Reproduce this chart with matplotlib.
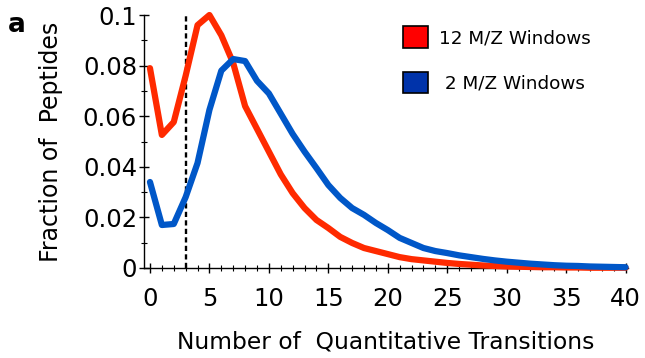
import numpy as np
import matplotlib
matplotlib.use('Agg')
import matplotlib.pyplot as plt
from matplotlib.patches import Patch
from matplotlib.ticker import MultipleLocator

# data
transitions = list(range(0, 41))
frac_12mz = [0.079, 0.0526, 0.0577, 0.076, 0.096, 0.1, 0.092, 0.081, 0.064, 0.055,
             0.046, 0.037, 0.0296, 0.0237, 0.019, 0.0158, 0.0123, 0.0099, 0.0079, 0.0067,
             0.0055, 0.0043, 0.0035, 0.003, 0.0025, 0.002, 0.0016, 0.0013, 0.001, 0.0008,
             0.0006, 0.0005, 0.0004, 0.0003, 0.0003, 0.0002, 0.0002, 0.0001, 0.0001, 0.0001,
             0.0001]
frac_2mz = [0.034, 0.017, 0.0174, 0.028, 0.0415, 0.0625, 0.078, 0.0826, 0.0818, 0.074,
            0.069, 0.061, 0.053, 0.046, 0.0395, 0.0328, 0.0277, 0.0237, 0.021, 0.0178,
            0.015, 0.0119, 0.0099, 0.0079, 0.0067, 0.0059, 0.005, 0.0043, 0.0036, 0.003,
            0.0025, 0.0021, 0.0017, 0.0014, 0.0011, 0.0009, 0.0008, 0.0006, 0.0005, 0.0004,
            0.0003]
cutoff = 3
legend_labels = ['12 M/Z Windows', ' 2 M/Z Windows']
ytick_vals = [0, 0.02, 0.04, 0.06, 0.08, 0.1]
ytick_text = ['0', '0.02', '0.04', '0.06', '0.08', '0.1']

red = '#ff2a00'
blue = '#0057c8'

plt.rcParams['font.family'] = ['DejaVu Sans']

fig = plt.figure(figsize=(6.45, 3.58), dpi=100)
ax = fig.add_axes([0.2233, 0.2514, 0.7503, 0.7066])

ax.plot(transitions, frac_12mz, color=red, lw=4.5, solid_capstyle='round',
        solid_joinstyle='round', clip_on=False, zorder=3)
ax.plot(transitions, frac_2mz, color=blue, lw=4.5, solid_capstyle='round',
        solid_joinstyle='round', clip_on=False, zorder=4)
ax.axvline(cutoff, color='black', lw=1.7, ls=(0, (2.2, 1.4)), zorder=2)

ax.set_xlim(-0.5, 40.2)
ax.set_ylim(0, 0.1)
ax.xaxis.set_major_locator(MultipleLocator(5))
ax.xaxis.set_minor_locator(MultipleLocator(1))
ax.yaxis.set_minor_locator(MultipleLocator(0.01))
ax.set_yticks(ytick_vals)
ax.set_yticklabels(ytick_text)
ax.tick_params(which='major', direction='inout', length=7, width=1, labelsize=17.5)
ax.tick_params(which='minor', direction='inout', length=4, width=0.8)
ax.tick_params(axis='x', which='major', pad=10)
ax.tick_params(axis='y', which='major', pad=1.5)

for s in ['top', 'right']:
    ax.spines[s].set_visible(False)
for s in ['left', 'bottom']:
    ax.spines[s].set_linewidth(1)

ax.set_xlabel('Number of  Quantitative Transitions', fontsize=16.8, labelpad=14)
ax.set_ylabel('Fraction of  Peptides', fontsize=17, labelpad=14)

handles = [Patch(facecolor='#ff0000', edgecolor='black', lw=1.2),
           Patch(facecolor='#0033aa', edgecolor='black', lw=1.2)]
ax.legend(handles, legend_labels, loc='upper left', bbox_to_anchor=(0.5, 1.02),
          frameon=False, fontsize=13.2, handlelength=1.4, handleheight=1.4,
          labelspacing=1.33, handletextpad=0.6)

fig.text(0.012, 0.911, 'a', fontsize=19, fontweight='bold')

fig.savefig('out.png', dpi=100)
